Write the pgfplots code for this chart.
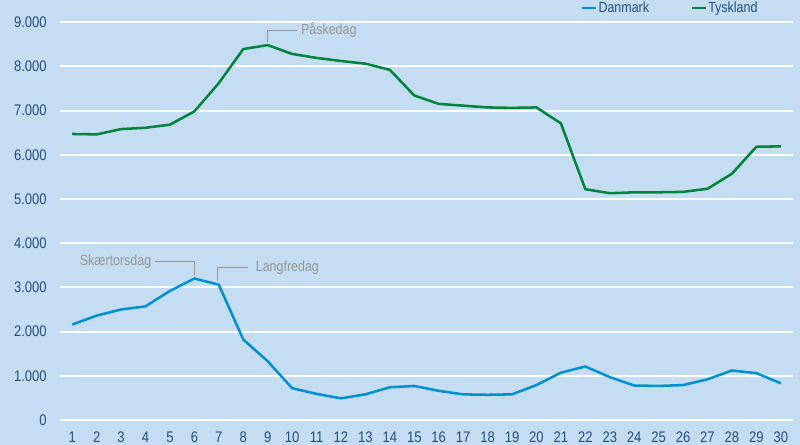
\documentclass[border=0pt]{standalone}
\usepackage{fontspec}
\setmainfont{Liberation Sans}[FakeStretch=0.85]
\usepackage{pgfplots}
\pgfplotsset{compat=1.18}

\definecolor{bg}{RGB}{197,221,242}
\definecolor{tickblue}{RGB}{36,76,124}
\definecolor{dk}{RGB}{0,146,208}
\definecolor{de}{RGB}{0,133,62}
\definecolor{anno}{RGB}{150,150,150}

\pgfplotstableread{
day dk de
1 2160 6470
2 2360 6460
3 2500 6580
4 2570 6610
5 2920 6680
6 3200 6980
7 3060 7620
8 1820 8390
9 1330 8480
10 720 8280
11 590 8190
12 490 8120
13 580 8060
14 740 7920
15 770 7340
16 660 7150
17 580 7110
18 570 7070
19 580 7060
20 790 7070
21 1070 6710
22 1210 5220
23 970 5130
24 780 5150
25 770 5150
26 790 5160
27 920 5230
28 1120 5570
29 1060 6180
30 830 6190
}\data

\begin{document}
\begin{tikzpicture}
\fill[bg] (0,0) rectangle (600pt,333.75pt);
\useasboundingbox (0,0) rectangle (600pt,333.75pt);
\begin{axis}[
    at={(45pt,18.75pt)}, anchor=south west,
    scale only axis,
    width=549.75pt, height=315pt,
    xmin=0.5, xmax=30.5,
    ymin=0, ymax=9500,
    xtick={1,...,30},
    ytick={0,1000,...,9000},
    axis line style={draw=none},
    tick style={draw=none},
    ymajorgrids,
    grid style={white, line width=1.5pt},
    tick label style={text=tickblue, font=\fontsize{11.5}{13}\selectfont},
    yticklabel style={xshift=-6.5pt},
    xticklabel style={yshift=-5.5pt},
    /pgf/number format/.cd, 1000 sep={.}, assume math mode=true,
    /pgfplots/.cd,
    legend columns=2,
    legend style={at={(0.7045,0.981)}, anchor=west, draw=none, fill=none,
        text=tickblue, font=\fontsize{11}{13}\selectfont,
        nodes={inner xsep=1pt},
        /tikz/every even column/.append style={column sep=30pt}},
    legend image code/.code={\draw[#1] (0pt,0pt) -- (10.5pt,0pt);},
    legend cell align=left,
]
\addplot[dk, line width=1.9pt] table[x=day, y=dk] {\data};
\addlegendentry{Danmark}
\addplot[de, line width=1.9pt] table[x=day, y=de] {\data};
\addlegendentry{Tyskland}

\draw[anno, line width=0.8pt] (axis cs:9,8550) -- (axis cs:9,8820) -- (axis cs:10.2,8820);
\node[anno, anchor=west, inner sep=1pt, font=\fontsize{11}{13}\selectfont] at (axis cs:10.3,8820) {Påskedag};
\draw[anno, line width=0.8pt] (axis cs:6,3290) -- (axis cs:6,3575) -- (axis cs:4.4,3575);
\node[anno, anchor=east, inner sep=1pt, font=\fontsize{11}{13}\selectfont] at (axis cs:4.3,3575) {Skærtorsdag};
\draw[anno, line width=0.8pt] (axis cs:6.95,3150) -- (axis cs:6.95,3440) -- (axis cs:8.2,3440);
\node[anno, anchor=west, inner sep=1pt, font=\fontsize{11}{13}\selectfont] at (axis cs:8.45,3440) {Langfredag};
\end{axis}
\end{tikzpicture}
\end{document}
